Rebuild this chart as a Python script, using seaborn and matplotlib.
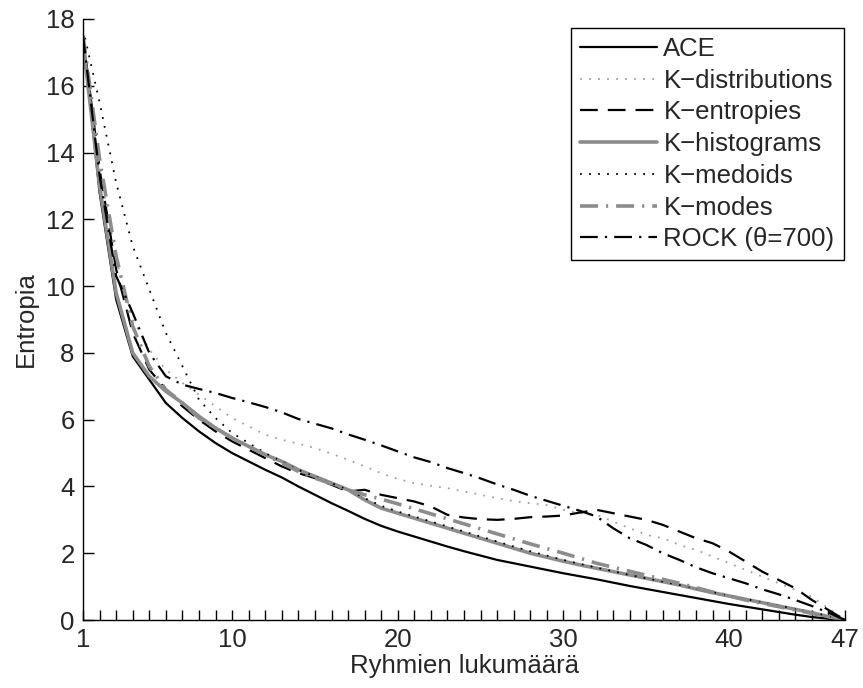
import numpy as np
import pandas as pd
import matplotlib
matplotlib.use("Agg")
import matplotlib.pyplot as plt
import seaborn as sns

clusters = list(range(1, 48))

ace = [17.5, 12.8, 9.6, 7.9, 7.2, 6.5, 6.05, 5.65, 5.3, 5.0, 4.75, 4.5, 4.27, 4.0, 3.75,
       3.5, 3.27, 3.03, 2.82, 2.65, 2.5, 2.35, 2.2, 2.06, 1.93, 1.8, 1.7, 1.6, 1.5, 1.4,
       1.31, 1.22, 1.12, 1.02, 0.93, 0.84, 0.75, 0.66, 0.57, 0.48, 0.4, 0.32, 0.24, 0.16,
       0.09, 0.04, 0.0]
k_distributions = [17.5, 13.6, 10.8, 9.0, 8.1, 7.5, 7.1, 6.75, 6.4, 6.05, 5.8, 5.55, 5.4,
                   5.28, 5.15, 4.98, 4.8, 4.6, 4.4, 4.22, 4.1, 4.02, 3.95, 3.85, 3.75, 3.65,
                   3.56, 3.5, 3.44, 3.3, 3.2, 3.15, 2.95, 2.75, 2.55, 2.45, 2.25, 2.1, 1.9,
                   1.7, 1.5, 1.3, 1.1, 0.9, 0.7, 0.35, 0.0]
k_entropies = [17.5, 13.5, 10.5, 8.6, 7.5, 6.9, 6.4, 6.0, 5.65, 5.35, 5.1, 4.85, 4.6, 4.4,
               4.25, 4.05, 3.85, 3.9, 3.75, 3.65, 3.55, 3.4, 3.15, 3.07, 3.02, 3.0, 3.03,
               3.08, 3.1, 3.13, 3.22, 3.3, 3.2, 3.1, 3.0, 2.85, 2.65, 2.45, 2.3, 2.05, 1.75,
               1.45, 1.2, 0.95, 0.6, 0.3, 0.0]
k_histograms = [17.3, 13.0, 9.8, 8.0, 7.3, 6.85, 6.5, 6.1, 5.75, 5.45, 5.2, 4.95, 4.75, 4.5,
                4.3, 4.1, 3.9, 3.6, 3.35, 3.2, 3.05, 2.9, 2.75, 2.6, 2.45, 2.3, 2.15, 2.0,
                1.88, 1.76, 1.65, 1.55, 1.45, 1.35, 1.25, 1.15, 1.05, 0.93, 0.82, 0.72, 0.62,
                0.52, 0.42, 0.32, 0.22, 0.1, 0.0]
k_medoids = [17.7, 15.5, 13.1, 11.2, 9.9, 8.6, 7.6, 6.6, 6.05, 5.6, 5.3, 5.0, 4.75, 4.5,
             4.3, 4.1, 3.9, 3.65, 3.42, 3.25, 3.1, 2.95, 2.8, 2.65, 2.5, 2.35, 2.2, 2.06,
             1.93, 1.8, 1.68, 1.57, 1.46, 1.35, 1.25, 1.15, 1.05, 0.94, 0.84, 0.73, 0.63,
             0.53, 0.43, 0.33, 0.23, 0.12, 0.0]
k_modes = [17.5, 13.8, 10.9, 8.8, 7.6, 6.9, 6.5, 6.05, 5.75, 5.45, 5.2, 4.95, 4.7, 4.45,
           4.25, 4.08, 3.9, 3.75, 3.62, 3.48, 3.33, 3.18, 3.03, 2.88, 2.73, 2.58, 2.43,
           2.28, 2.14, 2.0, 1.85, 1.7, 1.58, 1.46, 1.34, 1.22, 1.1, 0.97, 0.84, 0.72, 0.6,
           0.5, 0.4, 0.3, 0.2, 0.1, 0.0]
rock = [17.5, 13.3, 10.3, 9.2, 8.0, 7.3, 7.05, 6.92, 6.8, 6.65, 6.52, 6.38, 6.22, 6.02,
        5.88, 5.74, 5.56, 5.4, 5.23, 5.05, 4.87, 4.73, 4.55, 4.4, 4.24, 4.06, 3.9, 3.72,
        3.57, 3.42, 3.27, 3.1, 2.75, 2.45, 2.25, 2.0, 1.8, 1.58, 1.4, 1.25, 1.1, 0.92,
        0.77, 0.6, 0.42, 0.22, 0.0]

labels = ["ACE", "K\u2212distributions", "K\u2212entropies", "K\u2212histograms",
          "K\u2212medoids", "K\u2212modes", "ROCK (\u03b8=700)"]
series = [ace, k_distributions, k_entropies, k_histograms, k_medoids, k_modes, rock]

xtick_labels = [1, 10, 20, 30, 40, 47]

styles = [
    dict(color="black", lw=1.6, dashes=(None, None)),
    dict(color="#a0a0a0", lw=1.3, dashes=(1.0, 4.0)),
    dict(color="black", lw=1.6, dashes=(8.0, 4.5)),
    dict(color="#8c8c8c", lw=2.6, dashes=(None, None)),
    dict(color="black", lw=1.3, dashes=(1.0, 4.0)),
    dict(color="#8c8c8c", lw=2.6, dashes=(5.0, 2.2, 0.6, 2.2)),
    dict(color="black", lw=1.6, dashes=(8.0, 3.2, 1.0, 3.2)),
]

FS = 18.5

sns.set_style("ticks")
plt.rcParams["font.family"] = ["Liberation Sans", "DejaVu Sans"]

fig = plt.figure(figsize=(8.63, 6.88), dpi=100)
ax = fig.add_axes([0.0962, 0.0988, 0.883, 0.8736])

for lab, vals, st in zip(labels, series, styles):
    df = pd.DataFrame({"k": clusters, "H": vals})
    line_ax = sns.lineplot(data=df, x="k", y="H", ax=ax, color=st["color"],
                           linewidth=st["lw"], label=lab)
    ln = line_ax.get_lines()[-1]
    if st["dashes"][0] is not None:
        ln.set_dashes(st["dashes"])

ax.set_xlim(1, 47)
ax.set_ylim(0, 18)
ax.set_xticks(clusters)
ax.set_xticklabels([str(c) if c in xtick_labels else "" for c in clusters])
ax.set_yticks(np.arange(0, 19, 2))
ax.tick_params(axis="both", direction="in", length=8, width=1, color="black",
               labelsize=FS, pad=6)
ax.tick_params(axis="x", length=7)
for s in ["top", "right"]:
    ax.spines[s].set_visible(False)
for s in ["left", "bottom"]:
    ax.spines[s].set_color("black")
    ax.spines[s].set_linewidth(1.0)

ax.set_xlabel("Ryhmien lukumäärä", fontsize=FS, labelpad=1)
ax.set_ylabel("Entropia", fontsize=FS, labelpad=6)

handles, lbls = ax.get_legend_handles_labels()
leg = ax.legend(handles, lbls, loc="upper right", bbox_to_anchor=(0.998, 0.985),
                fontsize=FS, frameon=True, fancybox=False, framealpha=1,
                edgecolor="black", handlelength=3.0, handletextpad=0.25,
                labelspacing=0.3, borderpad=0.35, borderaxespad=0.0)
leg.get_frame().set_linewidth(1.0)
for h, st in zip(leg.get_lines(), styles):
    if st["dashes"][0] is not None:
        h.set_dashes(st["dashes"])

fig.savefig("out.png", dpi=100)
